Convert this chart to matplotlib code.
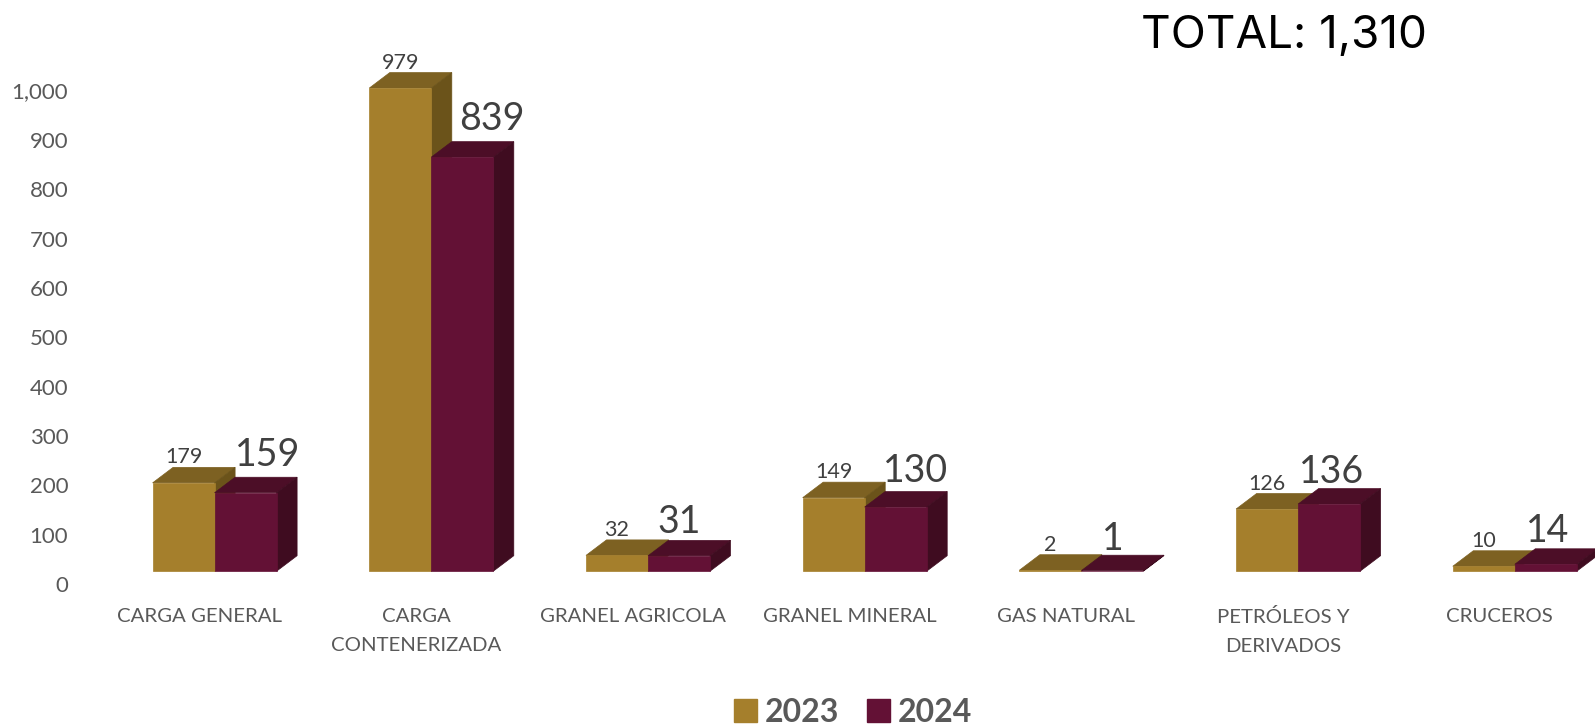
import matplotlib as mpl
import matplotlib.pyplot as plt
from matplotlib.patches import Patch

mpl.rcParams['font.family'] = ['Lato', 'DejaVu Sans']

categories = ['CARGA GENERAL', 'CARGA\nCONTENERIZADA', 'GRANEL AGRICOLA', 'GRANEL MINERAL',
              'GAS NATURAL', 'PETRÓLEOS Y\nDERIVADOS', 'CRUCEROS']
# bar heights, the printed labels differ from them on the last ones
heights_2023 = [179, 979, 32, 149, 2, 126, 10]
heights_2024 = [159, 839, 31, 130, 1, 136, 14]
labels_2023 = ['179', '979', '32', '149', '2', '126', '10']
labels_2024 = ['159', '839', '31', '130', '1', '136', '14']
yticks = [0, 100, 200, 300, 400, 500, 600, 700, 800, 900, 1000]

##layout, in pixels of the 1595x725 picture##
W, H = 1595, 725
px_per_cat = 216.7
px_per_val = 0.4935
x0_px = 214.6    # middle of first group
base_px = 571.2  # floor of the bars
zero_px = 584    # where the axis label 0 sits
ax_left, ax_bottom = 80, 590

bar_w = 62 / px_per_cat
dx = 20.5 / px_per_cat
dy = 15.5 / px_per_val
label_shift = 0.07

# nudges of the big labels (px)
nudge_x = [22, 30, 0, 20, 0, 2, 2]
nudge_y = [0, 0, -4, -2, -6, -6, -4]

GOLD = ('#A57F2C', '#7D6122', '#6B531A')
WINE = ('#631135', '#4C0E27', '#3F0C20')
TXT = '#595959'
DARK = '#404040'

fig = plt.figure(figsize=(W / 100, H / 100), dpi=100)
rect = [ax_left / W, 1 - ax_bottom / H, 1 - ax_left / W, ax_bottom / H]
ax = fig.add_axes(rect)
ax.set_xlim((ax_left - x0_px) / px_per_cat, (W - x0_px) / px_per_cat)
ax.set_ylim(-(ax_bottom - base_px) / px_per_val, base_px / px_per_val)
for s in ax.spines.values():
    s.set_visible(False)
ax.patch.set_alpha(0)

# second axes only carries the value labels, they sit lower than the bar floor
ay = fig.add_axes(rect, frameon=False)
ay.set_xlim(ax.get_xlim())
ay.set_ylim(-(ax_bottom - zero_px) / px_per_val, zero_px / px_per_val)
ay.set_yticks(yticks)
ay.set_yticklabels([f'{v:,}' for v in yticks])
ay.set_xticks([])
ay.tick_params(axis='y', length=0, pad=8.5, labelsize=16, labelcolor=TXT)


def box(x, h, cols):
    ax.fill([x, x + dx, x + bar_w + dx, x + bar_w], [h, h + dy, h + dy, h], fc=cols[1], ec=cols[1], lw=0.5, zorder=3)
    ax.fill([x + bar_w, x + bar_w + dx, x + bar_w + dx, x + bar_w], [0, dy, h + dy, h], fc=cols[2], ec=cols[2], lw=0.5, zorder=3)
    ax.bar(x, h, bar_w, align='edge', color=cols[0], edgecolor=cols[0], linewidth=0.5, zorder=3)


for i in range(len(categories)):
    box(i - bar_w, heights_2023[i], GOLD)
    box(i, heights_2024[i], WINE)
    ax.annotate(labels_2023[i], (i - bar_w / 2, heights_2023[i] + dy), xytext=(0, 0),
                textcoords='offset points', ha='center', va='bottom', fontsize=15.5, color=DARK, zorder=5)
    ax.annotate(labels_2024[i], (i + bar_w / 2, heights_2024[i] + dy),
                xytext=(nudge_x[i] * 0.72, 3 + nudge_y[i] * 0.72),
                textcoords='offset points', ha='center', va='bottom', fontsize=27, color=DARK, zorder=5)

ax.set_xticks([i - label_shift for i in range(len(categories))])
ax.set_xticklabels(categories, linespacing=1.85)
ax.tick_params(axis='x', length=0, pad=13, labelsize=14.7, labelcolor=TXT)
ax.set_yticks([])

fig.text(1284 / W, 1 - 36 / H, 'TOTAL: 1,310', ha='center', va='center', fontsize=33,
         family=['Inter', 'DejaVu Sans'], color='black')

handles = [Patch(color=GOLD[0], label='2023'), Patch(color=WINE[0], label='2024')]
fig.legend(handles=handles, loc='center', bbox_to_anchor=(853 / W, 1 - 712 / H), ncol=2, frameon=False,
           prop={'weight': 'bold', 'size': 23}, labelcolor=TXT, handlelength=0.72, handleheight=0.72,
           handletextpad=0.25, columnspacing=0.85)

fig.savefig('out.png', dpi=100)
